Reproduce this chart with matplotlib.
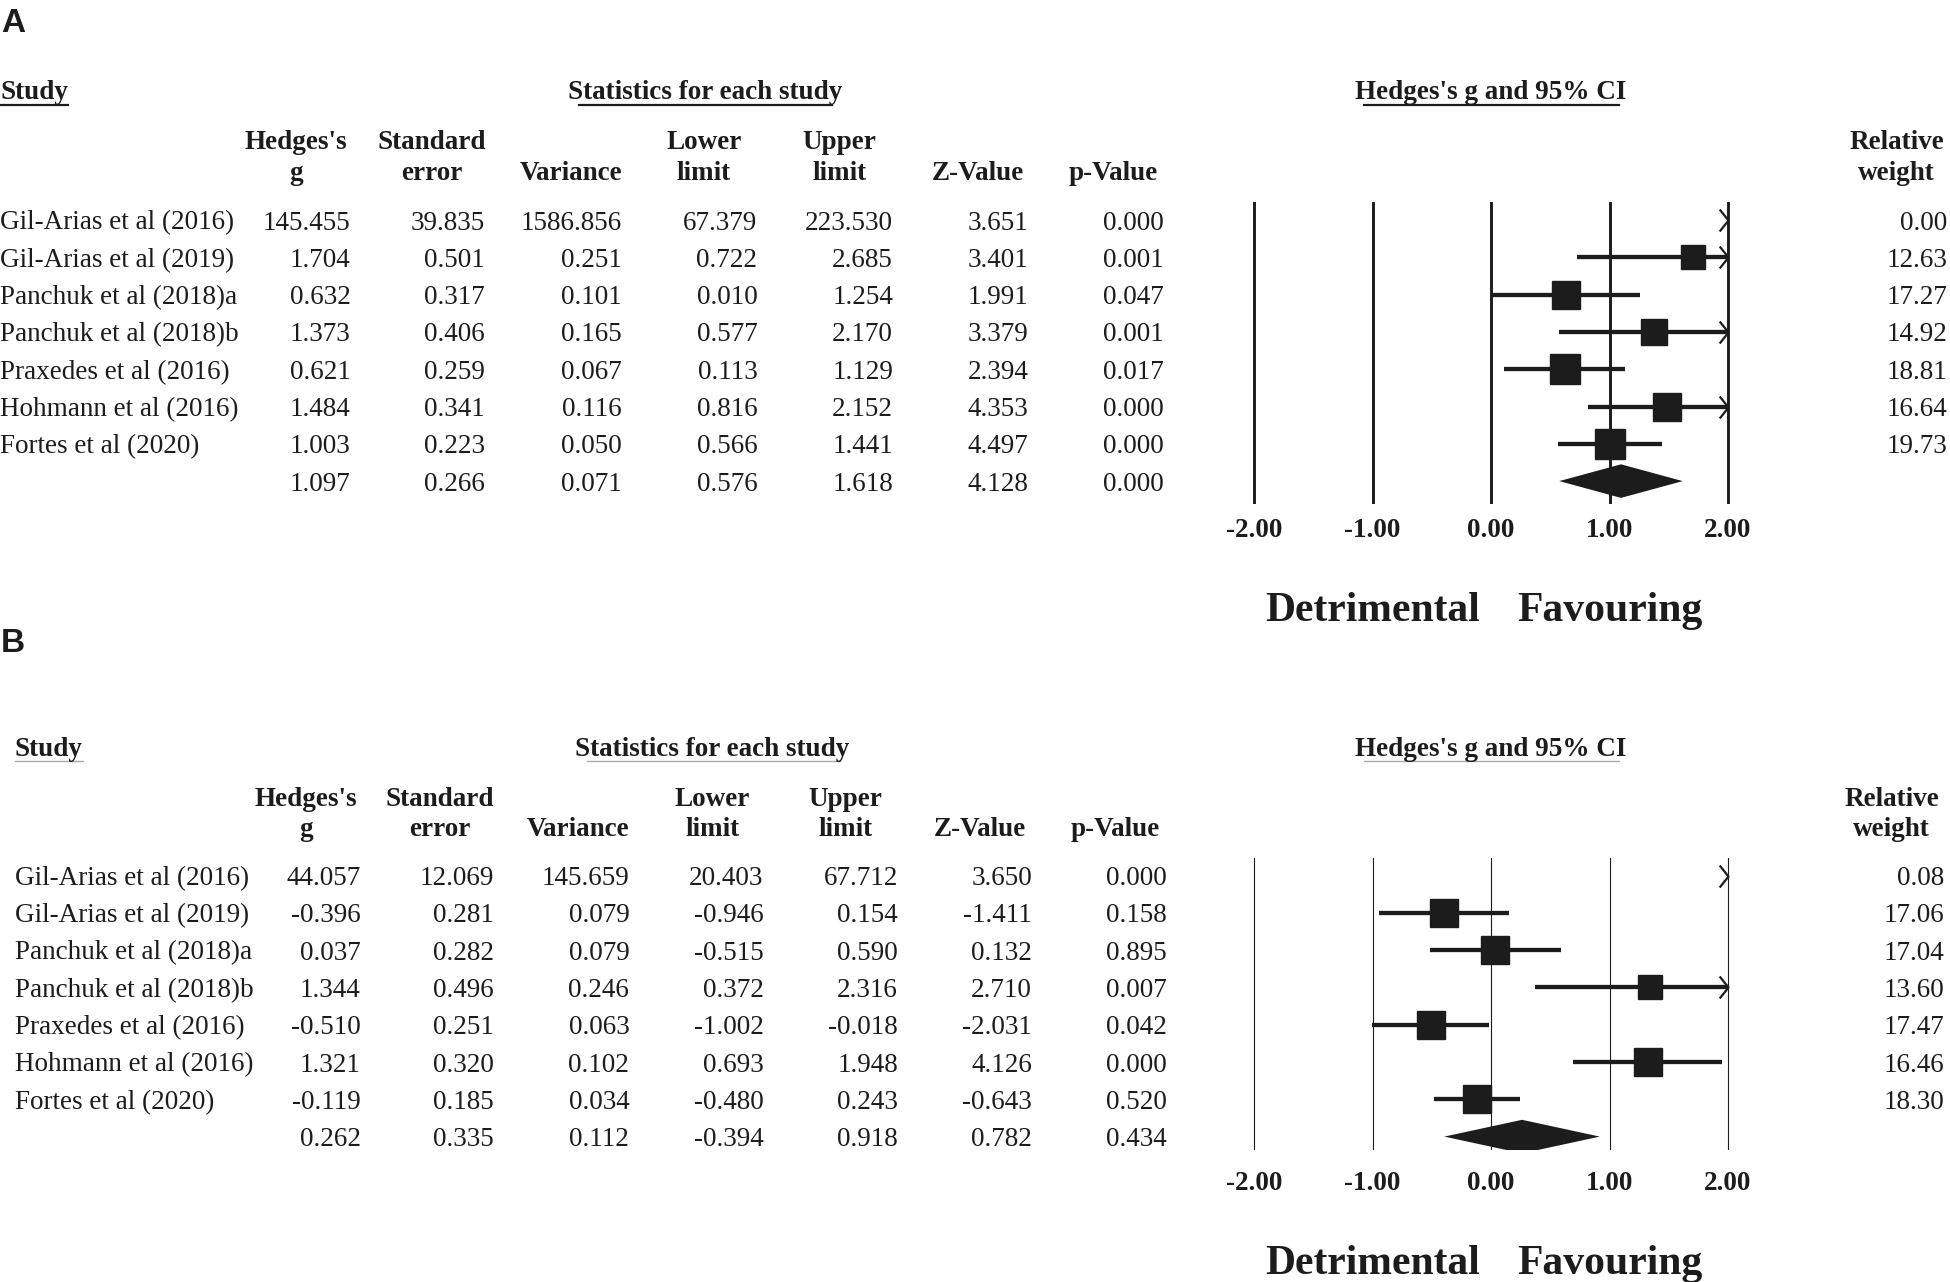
import matplotlib
matplotlib.use("Agg")
import matplotlib.pyplot as plt
import matplotlib.transforms as mtransforms
from matplotlib.lines import Line2D
from matplotlib.path import Path
import numpy as np

W, H = 1950, 1282
INK = '#1c1c1c'
plt.rcParams['font.family'] = ['Liberation Serif', 'DejaVu Serif']

studies = ["Gil-Arias et al (2016)", "Gil-Arias et al (2019)", "Panchuk et al (2018)a",
           "Panchuk et al (2018)b", "Praxedes et al (2016)", "Hohmann et al (2016)",
           "Fortes et al (2020)"]

# panel A (last value = summary row)
a_g = [145.455, 1.704, 0.632, 1.373, 0.621, 1.484, 1.003, 1.097]
a_se = [39.835, 0.501, 0.317, 0.406, 0.259, 0.341, 0.223, 0.266]
a_var = [1586.856, 0.251, 0.101, 0.165, 0.067, 0.116, 0.050, 0.071]
a_lo = [67.379, 0.722, 0.010, 0.577, 0.113, 0.816, 0.566, 0.576]
a_hi = [223.530, 2.685, 1.254, 2.170, 1.129, 2.152, 1.441, 1.618]
a_z = [3.651, 3.401, 1.991, 3.379, 2.394, 4.353, 4.497, 4.128]
a_p = [0.000, 0.001, 0.047, 0.001, 0.017, 0.000, 0.000, 0.000]
a_w = [0.00, 12.63, 17.27, 14.92, 18.81, 16.64, 19.73]

# panel B
b_g = [44.057, -0.396, 0.037, 1.344, -0.510, 1.321, -0.119, 0.262]
b_se = [12.069, 0.281, 0.282, 0.496, 0.251, 0.320, 0.185, 0.335]
b_var = [145.659, 0.079, 0.079, 0.246, 0.063, 0.102, 0.034, 0.112]
b_lo = [20.403, -0.946, -0.515, 0.372, -1.002, 0.693, -0.480, -0.394]
b_hi = [67.712, 0.154, 0.590, 2.316, -0.018, 1.948, 0.243, 0.918]
b_z = [3.650, -1.411, 0.132, 2.710, -2.031, 4.126, -0.643, 0.782]
b_p = [0.000, 0.158, 0.895, 0.007, 0.042, 0.000, 0.520, 0.434]
b_w = [0.08, 17.06, 17.04, 13.60, 17.47, 16.46, 18.30]

head_top = ["Hedges's", "Standard", "", "Lower", "Upper", "", ""]
head_bot = ["g", "error", "Variance", "limit", "limit", "Z-Value", "p-Value"]
ticks = [-2, -1, 0, 1, 2]
tick_labels = ["-2.00", "-1.00", "0.00", "1.00", "2.00"]

FS = 19.5
SP = 37.3  # row spacing, px
UNIT = 118.5  # px per unit of g
ZERO = 1491

chevron = Path([(-0.8, -1), (0, 0), (-0.8, 1)], [Path.MOVETO, Path.LINETO, Path.LINETO])

fig = plt.figure(figsize=(W / 100, H / 100), dpi=100)


def txt(x, y, s, **kw):
    kw.setdefault('fontsize', FS)
    kw.setdefault('va', 'baseline')
    fig.text(x / W, 1 - y / H, s, color=INK, **kw)


def uline(x0, x1, y, color, lw):
    fig.add_artist(Line2D([x0 / W, x1 / W], [1 - y / H] * 2, transform=fig.transFigure,
                          color=color, lw=lw))


def panel(lay, g, se, var, lo, hi, z, p, w):
    b = 9.5  # centre -> baseline
    txt(lay['lab_x'], lay['lab_y'], lay['label'], family=['Liberation Sans', 'DejaVu Sans'],
        fontweight='bold', fontsize=24)
    txt(lay['name_x'], lay['title_y'] + b, "Study", fontweight='bold')
    txt(lay['stats_c'], lay['title_y'] + b, "Statistics for each study", fontweight='bold', ha='center')
    ul = lay['uline']
    uline(lay['name_x'], lay['name_x'] + 68, lay['title_y'] + 15, ul[0], ul[1])
    uline(lay['stats_c'] - 126, lay['stats_c'] + 127, lay['title_y'] + 15, ul[0], ul[1])

    for j in range(7):
        txt(lay['head_c'][j], lay['head_y'][0] + b, head_top[j], fontweight='bold', ha='center')
        txt(lay['head_c'][j], lay['head_y'][1] + b, head_bot[j], fontweight='bold', ha='center')
    txt(lay['wt_c'], lay['head_y'][0] + b, "Relative", fontweight='bold', ha='center')
    txt(lay['wt_c'], lay['head_y'][1] + b, "weight", fontweight='bold', ha='center')

    cols = [g, se, var, lo, hi, z, p]
    for i in range(8):
        y = lay['row0'] + i * SP + b
        if i < 7:
            txt(lay['name_x'], y, studies[i])
            txt(lay['wt_r'], y, f"{w[i]:.2f}", ha='right')
        for j in range(7):
            txt(lay['col_r'][j], y, f"{cols[j][i]:.3f}", ha='right')

    # forest plot
    top, bot = lay['forest']
    pad_t = (lay['row0'] - top) / SP
    pad_b = (bot - (lay['row0'] + 7 * SP)) / SP
    xl = 2.2
    ax = fig.add_axes([(ZERO - xl * UNIT) / W, 1 - bot / H, 2 * xl * UNIT / W, (bot - top) / H])
    ax.set_xlim(-xl, xl)
    ax.set_ylim(7 + pad_b, -pad_t)
    ax.set_axis_off()
    for t in ticks:
        ax.axvline(t, color=INK, lw=lay['grid_lw'])
    for i in range(7):
        a0 = max(lo[i], -2)
        a1 = min(hi[i], 2)
        if a1 > a0:
            ax.plot([a0, a1], [i, i], color=INK, lw=3.1, solid_capstyle='butt')
        if hi[i] > 2:
            ax.plot([2], [i], marker=chevron, ms=15.8, mfc='none', mec=INK, mew=1.6,
                    linestyle='none', clip_on=False)
        if -2 <= g[i] <= 2:
            ax.plot([g[i]], [i], marker='s', ms=6.7 * np.sqrt(w[i]) / 1.389, color=INK,
                    linestyle='none')
    ax.fill([lo[7], g[7], hi[7], g[7]], [7, 7 - 0.45, 7, 7 + 0.45], color=INK, lw=0)

    tr = mtransforms.blended_transform_factory(ax.transData, fig.transFigure)
    for t, s in zip(ticks, tick_labels):
        ax.text(t, 1 - (lay['tick_y'] + b) / H, s, transform=tr, ha='center', va='baseline',
                fontsize=FS, fontweight='bold', color=INK)
    ax.text(0, 1 - (lay['title_y'] + b) / H, "Hedges's g and 95% CI", transform=tr, ha='center',
            va='baseline', fontsize=FS, fontweight='bold', color=INK)
    ax.add_line(Line2D([-1.07, 1.08], [1 - (lay['title_y'] + 15) / H] * 2, transform=tr,
                       color=ul[0], lw=ul[1], clip_on=False))
    ax.text(-1, 1 - (lay['fav_y'] + 14) / H, "Detrimental", transform=tr, ha='center',
            va='baseline', fontsize=30, fontweight='bold', color=INK)
    ax.text(1, 1 - (lay['fav_y'] + 14) / H, "Favouring", transform=tr, ha='center',
            va='baseline', fontsize=30, fontweight='bold', color=INK)


lay_a = dict(label='A', lab_x=1, lab_y=32, name_x=0, title_y=89.5, stats_c=705,
             head_y=(139.3, 170.4), head_c=[296, 431.5, 571, 704, 839.4, 977.5, 1113],
             col_r=[350.7, 485, 621.8, 757.4, 893, 1028.5, 1164], wt_c=1896.5, wt_r=1947,
             row0=220, forest=(201.5, 503.7), tick_y=527.3, fav_y=607, grid_lw=2.1,
             uline=(INK, 1.6))
lay_b = dict(label='B', lab_x=1, lab_y=652, name_x=15, title_y=746, stats_c=712.6,
             head_y=(796, 827), head_c=[306, 440, 578, 712.6, 845.6, 980, 1115.5],
             col_r=[360.6, 493.7, 629.3, 763.6, 898, 1032, 1166.5], wt_c=1891.5, wt_r=1944,
             row0=875.5, forest=(858, 1150), tick_y=1180, fav_y=1259.8, grid_lw=0.8,
             uline=('#aaaaaa', 1.0))

panel(lay_a, a_g, a_se, a_var, a_lo, a_hi, a_z, a_p, a_w)
panel(lay_b, b_g, b_se, b_var, b_lo, b_hi, b_z, b_p, b_w)

fig.savefig("out.png", dpi=100, facecolor='white')
